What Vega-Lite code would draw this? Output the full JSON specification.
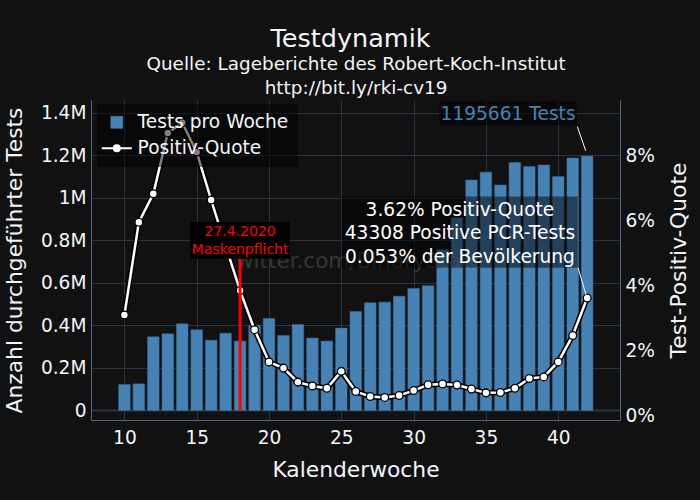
{
  "$schema": "https://vega.github.io/schema/vega-lite/v6.json",
  "width": 529,
  "height": 320,
  "autosize": {"type": "none"},
  "padding": {"left": 91, "top": 100, "right": 80, "bottom": 80},
  "background": "#111111",
  "title": {
    "text": "Testdynamik",
    "anchor": "middle",
    "dx": -5,
    "offset": 2,
    "fontSize": 25.5,
    "fontWeight": "normal",
    "color": "#f2f5fa"
  },
  "datasets": {
    "weeks": [
      {"woche": 10, "tests": 122000, "quote": 3.1},
      {"woche": 11, "tests": 125000, "quote": 5.95},
      {"woche": 12, "tests": 346000, "quote": 6.82},
      {"woche": 13, "tests": 360000, "quote": 8.69},
      {"woche": 14, "tests": 407000, "quote": 9.0},
      {"woche": 15, "tests": 379000, "quote": 8.1},
      {"woche": 16, "tests": 330000, "quote": 6.63},
      {"woche": 17, "tests": 363000, "quote": 5.22},
      {"woche": 18, "tests": 326000, "quote": 3.85},
      {"woche": 19, "tests": 400000, "quote": 2.65},
      {"woche": 20, "tests": 432000, "quote": 1.66},
      {"woche": 21, "tests": 352000, "quote": 1.47},
      {"woche": 22, "tests": 404000, "quote": 1.04},
      {"woche": 23, "tests": 340000, "quote": 0.92},
      {"woche": 24, "tests": 326000, "quote": 0.85},
      {"woche": 25, "tests": 387000, "quote": 1.37},
      {"woche": 26, "tests": 465000, "quote": 0.75},
      {"woche": 27, "tests": 506000, "quote": 0.6},
      {"woche": 28, "tests": 509000, "quote": 0.57},
      {"woche": 29, "tests": 537000, "quote": 0.63},
      {"woche": 30, "tests": 573000, "quote": 0.78},
      {"woche": 31, "tests": 586000, "quote": 0.96},
      {"woche": 32, "tests": 755000, "quote": 0.98},
      {"woche": 33, "tests": 905000, "quote": 0.95},
      {"woche": 34, "tests": 1083000, "quote": 0.83},
      {"woche": 35, "tests": 1120000, "quote": 0.71},
      {"woche": 36, "tests": 1060000, "quote": 0.72},
      {"woche": 37, "tests": 1165000, "quote": 0.85},
      {"woche": 38, "tests": 1146000, "quote": 1.15},
      {"woche": 39, "tests": 1154000, "quote": 1.2},
      {"woche": 40, "tests": 1100000, "quote": 1.66},
      {"woche": 41, "tests": 1186000, "quote": 2.47},
      {"woche": 42, "tests": 1195661, "quote": 3.62}
    ]
  },
  "data": {"name": "weeks"},
  "resolve": {"scale": {"y": "independent"}},
  "layer": [
    {
      "mark": {"type": "bar", "size": 11.6, "stroke": "#3b6f9c", "strokeWidth": 0.5},
      "encoding": {
        "x": {
          "field": "woche",
          "type": "quantitative",
          "title": "Kalenderwoche",
          "scale": {"domain": [7.69, 44.27], "nice": false, "zero": false, "padding": 0},
          "axis": {
            "values": [10, 15, 20, 25, 30, 35, 40],
            "domain": true,
            "labelPadding": 8,
            "titlePadding": 13
          }
        },
        "y": {
          "field": "tests",
          "type": "quantitative",
          "title": "Anzahl durchgeführter Tests",
          "scale": {"domain": [-45000, 1459000], "nice": false, "zero": false},
          "axis": {
            "values": [0, 200000, 400000, 600000, 800000, 1000000, 1200000, 1400000],
            "labelExpr": "datum.value === 0 ? '0' : (datum.value / 1000000) + 'M'",
            "gridWidth": {"condition": {"test": "datum.value === 0", "value": 2}, "value": 1},
            "domain": true,
            "titlePadding": 14
          }
        },
        "color": {
          "datum": "Tests pro Woche",
          "type": "nominal",
          "scale": {"domain": ["Tests pro Woche", "Positiv-Quote"], "range": ["#4682b4", "#ffffff"]},
          "legend": {
            "title": null,
            "orient": "none",
            "legendX": 6,
            "legendY": 4,
            "zindex": 1,
            "fillColor": "rgba(0,0,0,0.5)",
            "padding": 9,
            "labelFontSize": 18.6,
            "labelColor": "#f2f5fa",
            "symbolOffset": 1.5,
            "labelOffset": 11.5,
            "rowPadding": 7,
            "symbolSize": 180,
            "symbolType": {"expr": "datum.value === 'Positiv-Quote' ? 'M-2.24,0L2.24,0M-0.45,0A0.45,0.45 0 1 1 0.45,0A0.45,0.45 0 1 1 -0.45,0Z' : 'M-0.9,-0.9H0.9V0.9H-0.9Z'"},
            "symbolStrokeColor": {"expr": "datum.value === 'Positiv-Quote' ? '#ffffff' : '#3b6f9c'"},
            "symbolStrokeWidth": {"expr": "datum.value === 'Positiv-Quote' ? 2 : 0.5"}
          }
        }
      }
    },
    {
      "data": {"values": [{"woche": 25.95, "tests": 698000, "label": "twitter.com/BinaryState"}]},
      "mark": {"type": "text", "fontSize": 21.5, "color": "#ffffff", "opacity": 0.15, "align": "center", "baseline": "middle"},
      "encoding": {
        "x": {"field": "woche", "type": "quantitative"},
        "y": {
          "field": "tests",
          "type": "quantitative",
          "scale": {"domain": [-45000, 1459000], "nice": false, "zero": false},
          "axis": null
        },
        "text": {"field": "label"}
      }
    },
    {
      "mark": {"type": "line", "stroke": "#000000", "strokeWidth": 5.5},
      "encoding": {
        "x": {"field": "woche", "type": "quantitative"},
        "y": {
          "field": "quote",
          "type": "quantitative",
          "scale": {"domain": [-0.123, 9.7], "nice": false, "zero": false},
          "axis": null
        }
      }
    },
    {
      "mark": {"type": "line", "strokeWidth": 2.5},
      "encoding": {
        "x": {"field": "woche", "type": "quantitative"},
        "y": {
          "field": "quote",
          "type": "quantitative",
          "title": "Test-Positiv-Quote",
          "scale": {"domain": [-0.123, 9.7], "nice": false, "zero": false},
          "axis": {
            "orient": "right",
            "values": [0, 2, 4, 6, 8],
            "labelExpr": "datum.value + '%'",
            "gridWidth": {"condition": {"test": "datum.value === 0", "value": 2}, "value": 1},
            "domain": true,
            "titleAngle": 270,
            "titlePadding": 36
          }
        },
        "color": {"datum": "Positiv-Quote", "type": "nominal"}
      }
    },
    {
      "mark": {"type": "point", "filled": true, "fill": "#ffffff", "stroke": "#000000", "strokeWidth": 1.3, "size": 60, "opacity": 1},
      "encoding": {
        "x": {"field": "woche", "type": "quantitative"},
        "y": {
          "field": "quote",
          "type": "quantitative",
          "scale": {"domain": [-0.123, 9.7], "nice": false, "zero": false},
          "axis": null
        }
      }
    },
    {
      "data": {"values": [{"woche": 18, "von": 0, "bis": 712500}]},
      "mark": {"type": "rule", "color": "#ff0000", "strokeWidth": 3},
      "encoding": {
        "x": {"field": "woche", "type": "quantitative"},
        "y": {
          "field": "von",
          "type": "quantitative",
          "scale": {"domain": [-45000, 1459000], "nice": false, "zero": false},
          "axis": null
        },
        "y2": {"field": "bis"}
      }
    },
    {
      "data": {"values": [{"x1": 14.57, "x2": 21.42, "y1": 712500, "y2": 886000}]},
      "mark": {"type": "rect", "color": "#000000", "opacity": 1},
      "encoding": {
        "x": {"field": "x1", "type": "quantitative"},
        "x2": {"field": "x2"},
        "y": {
          "field": "y1",
          "type": "quantitative",
          "scale": {"domain": [-45000, 1459000], "nice": false, "zero": false},
          "axis": null
        },
        "y2": {"field": "y2"}
      }
    },
    {
      "data": {
        "values": [
          {"x1": 31.78, "x2": 41.28, "y1": 1342000, "y2": 1455000},
          {"x1": 25.03, "x2": 41.35, "y1": 670000, "y2": 1005000}
        ]
      },
      "mark": {"type": "rect", "color": "#000000", "opacity": 0.5},
      "encoding": {
        "x": {"field": "x1", "type": "quantitative"},
        "x2": {"field": "x2"},
        "y": {
          "field": "y1",
          "type": "quantitative",
          "scale": {"domain": [-45000, 1459000], "nice": false, "zero": false},
          "axis": null
        },
        "y2": {"field": "y2"}
      }
    },
    {
      "data": {
        "values": [
          {"x1": 41.32, "x2": 41.9, "y1": 1334000, "y2": 1220000},
          {"x1": 41.37, "x2": 41.92, "y1": 670000, "y2": 543500}
        ]
      },
      "mark": {"type": "rule", "color": "#ffffff", "strokeWidth": 1},
      "encoding": {
        "x": {"field": "x1", "type": "quantitative"},
        "x2": {"field": "x2"},
        "y": {
          "field": "y1",
          "type": "quantitative",
          "scale": {"domain": [-45000, 1459000], "nice": false, "zero": false},
          "axis": null
        },
        "y2": {"field": "y2"}
      }
    },
    {
      "data": {
        "values": [
          {"woche": 18, "tests": 838000, "label": "27.4.2020"},
          {"woche": 18, "tests": 755000, "label": "Maskenpflicht"}
        ]
      },
      "mark": {"type": "text", "fontSize": 14, "color": "#ff0000", "align": "center", "baseline": "middle"},
      "encoding": {
        "x": {"field": "woche", "type": "quantitative"},
        "y": {
          "field": "tests",
          "type": "quantitative",
          "scale": {"domain": [-45000, 1459000], "nice": false, "zero": false},
          "axis": null
        },
        "text": {"field": "label"}
      }
    },
    {
      "data": {"values": [{"woche": 36.53, "tests": 1393600, "label": "1195661 Tests"}]},
      "mark": {"type": "text", "fontSize": 18.6, "color": "#4682b4", "align": "center", "baseline": "middle"},
      "encoding": {
        "x": {"field": "woche", "type": "quantitative"},
        "y": {
          "field": "tests",
          "type": "quantitative",
          "scale": {"domain": [-45000, 1459000], "nice": false, "zero": false},
          "axis": null
        },
        "text": {"field": "label"}
      }
    },
    {
      "data": {
        "values": [
          {"woche": 33.2, "tests": 942700, "label": "3.62% Positiv-Quote"},
          {"woche": 33.2, "tests": 833000, "label": "43308 Positive PCR-Tests"},
          {"woche": 33.2, "tests": 723000, "label": "0.053% der Bevölkerung"}
        ]
      },
      "mark": {"type": "text", "fontSize": 18.6, "color": "#ffffff", "align": "center", "baseline": "middle"},
      "encoding": {
        "x": {"field": "woche", "type": "quantitative"},
        "y": {
          "field": "tests",
          "type": "quantitative",
          "scale": {"domain": [-45000, 1459000], "nice": false, "zero": false},
          "axis": null
        },
        "text": {"field": "label"}
      }
    },
    {
      "data": {
        "values": [
          {"woche": 26.02, "tests": 1628500, "label": "Quelle: Lageberichte des Robert-Koch-Institut"},
          {"woche": 26.02, "tests": 1516000, "label": "http://bit.ly/rki-cv19"}
        ]
      },
      "mark": {"type": "text", "fontSize": 18.4, "color": "#f2f5fa", "align": "center", "baseline": "middle"},
      "encoding": {
        "x": {"field": "woche", "type": "quantitative"},
        "y": {
          "field": "tests",
          "type": "quantitative",
          "scale": {"domain": [-45000, 1459000], "nice": false, "zero": false},
          "axis": null
        },
        "text": {"field": "label"}
      }
    }
  ],
  "config": {
    "font": "DejaVu Sans",
    "view": {"stroke": null},
    "axis": {
      "domainColor": "#506784",
      "domainWidth": 1,
      "grid": true,
      "gridColor": "#283442",
      "gridOpacity": 1,
      "ticks": false,
      "labelColor": "#f2f5fa",
      "labelFontSize": 18.6,
      "labelPadding": 5,
      "titleColor": "#f2f5fa",
      "titleFontSize": 21.8,
      "titleFontWeight": "normal"
    }
  }
}
